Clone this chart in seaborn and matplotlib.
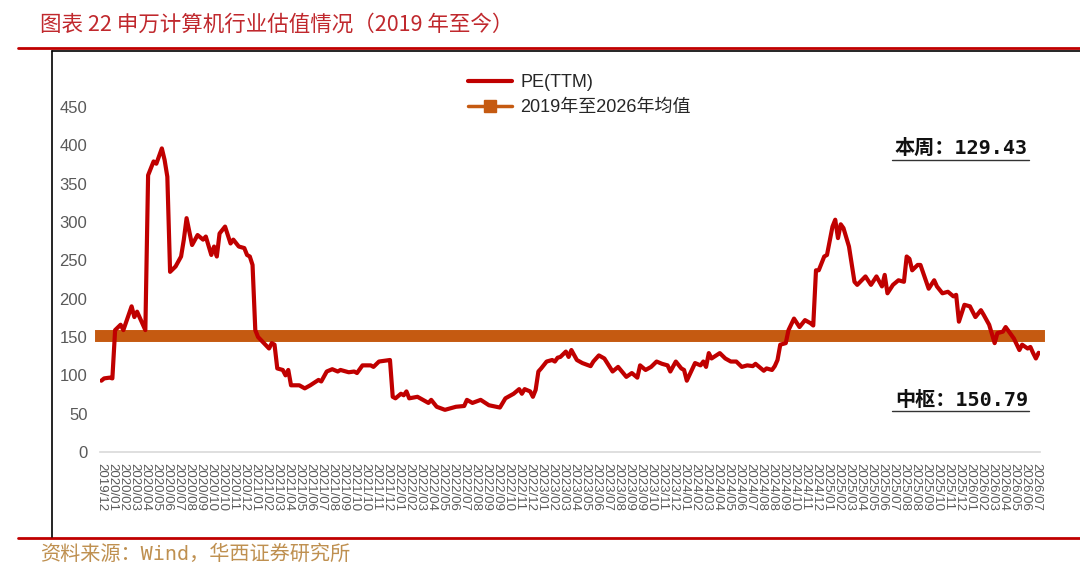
import numpy as np
import pandas as pd
import seaborn as sns
import matplotlib.pyplot as plt
from matplotlib.lines import Line2D

# weekly observations, week number counted from 2019-12-27
start_date = "2019-12-27"
week_no = [0, 1, 3, 4, 5, 7, 8, 11, 12, 13, 16, 17, 19, 20, 22, 23, 24, 25, 27, 29,
           30, 31, 33, 35, 37, 38, 40, 41, 42, 43, 45, 47, 48, 50, 52, 53, 54, 55, 56, 57,
           61, 62, 63, 64, 66, 67, 68, 69, 72, 74, 76, 79, 80, 82, 84, 86, 87, 90, 92, 93,
           95, 98, 99, 101, 105, 106, 107, 109, 110, 111, 112, 115, 117, 119, 120, 122, 125, 127, 129, 132,
           133, 135, 138, 141, 145, 147, 150, 152, 153, 154, 156, 157, 158, 159, 160, 162, 164, 165, 166, 167,
           169, 170, 171, 173, 175, 178, 179, 181, 183, 186, 188, 191, 193, 195, 196, 198, 200, 202, 204, 206,
           207, 209, 211, 212, 213, 216, 218, 219, 220, 221, 222, 225, 227, 229, 231, 233, 235, 237, 238, 240,
           241, 242, 244, 245, 246, 247, 249, 250, 252, 254, 256, 258, 259, 260, 261, 263, 264, 266, 267, 268,
           269, 270, 272, 274, 275, 278, 280, 282, 284, 285, 286, 288, 290, 292, 293, 294, 295, 297, 298, 301,
           303, 304, 306, 308, 310, 311, 312, 314, 316, 318, 320, 321, 323, 325, 326, 328, 329, 331, 332, 334,
           335, 337, 338, 339, 340, 341]
pe_ttm = [93, 96, 97, 96, 159, 166, 159, 190, 176, 183, 159, 361, 379, 376, 396, 381, 359, 235, 242, 255,
          277, 305, 270, 283, 277, 281, 257, 268, 255, 285, 294, 272, 277, 268, 266, 257, 255, 244, 159, 150,
          135, 142, 140, 109, 107, 100, 107, 87, 87, 83, 87, 94, 92, 105, 108, 105, 107, 104, 105, 103,
          113, 113, 111, 118, 120, 72, 70, 76, 74, 79, 70, 72, 68, 64, 68, 59, 55, 57, 59, 60,
          68, 64, 68, 61, 58, 70, 76, 82, 76, 82, 79, 72, 81, 105, 109, 118, 120, 118, 123, 124,
          131, 124, 133, 120, 116, 112, 118, 126, 122, 105, 111, 98, 103, 97, 113, 107, 111, 118, 115, 113,
          105, 118, 109, 107, 93, 116, 113, 118, 111, 129, 122, 129, 122, 118, 118, 111, 113, 112, 115, 109,
          106, 109, 107, 112, 120, 140, 142, 159, 174, 163, 172, 168, 165, 237, 237, 255, 257, 294, 303, 279,
          297, 292, 268, 222, 218, 229, 218, 229, 216, 231, 207, 218, 224, 222, 255, 252, 237, 244, 244, 213,
          224, 216, 207, 209, 203, 205, 170, 192, 190, 176, 185, 179, 166, 142, 155, 157, 163, 153, 148, 133,
          140, 135, 137, 129, 122, 129.43]
mean_pe = 150.79
latest_pe = 129.43

y_ticks = [0, 50, 100, 150, 200, 250, 300, 350, 400, 450]

dates = pd.Timestamp(start_date) + pd.to_timedelta(np.array(week_no) * 7, unit="D")
df = pd.DataFrame({"date": dates, "pe": pe_ttm})
df["mean"] = mean_pe
tick_dates = pd.date_range(start_date, periods=86, freq="28D")

sns.set_theme(style="white")
plt.rcParams["font.family"] = ["Liberation Sans", "Noto Sans CJK SC"]

fig = plt.figure(figsize=(10.8, 5.7), dpi=100)
ax = fig.add_axes([100 / 1080, 1 - 452 / 570, 940 / 1080, 345 / 570])

red = "#c00000"
orange = "#c55a11"

sns.lineplot(data=df, x="date", y="mean", color=orange, lw=8.6, ax=ax,
             solid_capstyle="projecting", clip_on=False)
sns.lineplot(data=df, x="date", y="pe", color=red, lw=3, ax=ax, zorder=3)

ax.set_xlim(pd.Timestamp(start_date) - pd.Timedelta(days=3.5),
            df["date"].iloc[-1] + pd.Timedelta(days=3.5))
ax.set_ylim(0, 450)
ax.set_yticks(y_ticks)
ax.set_xticks(tick_dates)
ax.set_xticklabels([d.strftime("%Y/%m") for d in tick_dates], rotation=270,
                   fontsize=9.5, color="#595959")
ax.tick_params(axis="y", labelsize=12, labelcolor="#595959", pad=9, length=0)
ax.tick_params(axis="x", pad=8, length=0)
ax.set_xlabel("")
ax.set_ylabel("")
for s in ["top", "right", "left"]:
    ax.spines[s].set_visible(False)
ax.spines["bottom"].set_color("#d9d9d9")
ax.spines["bottom"].set_linewidth(1.2)

handles = [Line2D([], [], color=red, lw=3),
           Line2D([], [], color=orange, lw=2.5, marker="s", markersize=8)]
fig.legend(handles, ["PE(TTM)", "2019年至2026年均值"], loc="upper left",
           bbox_to_anchor=(468 / 1080, 1 - 74 / 570), frameon=False, fontsize=13,
           borderpad=0, borderaxespad=0, handlelength=2.45, handletextpad=0.45,
           labelspacing=0.45, labelcolor="#262626")

# annotations with underline
note_font = ["DejaVu Sans Mono", "Noto Sans CJK SC"]
fig.text(1028 / 1080, 1 - 148 / 570, f"本周：{latest_pe:.2f}", ha="right", va="center",
         fontsize=14.5, fontweight="bold", family=note_font, color="#111111")
fig.text(1028 / 1080, 1 - 400 / 570, f"中枢：{mean_pe:.2f}", ha="right", va="center",
         fontsize=14.5, fontweight="bold", family=note_font, color="#111111")
for yy in [160, 411]:
    fig.add_artist(Line2D([892 / 1080, 1029 / 1080], [1 - yy / 570] * 2,
                          transform=fig.transFigure, color="#333333", lw=1))

# title, frame and source
fig.text(40 / 1080, 1 - 25 / 570, "图表 22 申万计算机行业估值情况（2019 年至今）",
         ha="left", va="center", fontsize=15.5, color="#c0282d",
         family=["Noto Sans CJK SC", "DejaVu Sans"])
fig.add_artist(Line2D([18 / 1080, 1], [1 - 47.5 / 570] * 2, transform=fig.transFigure,
                      color="#c00000", lw=2))
fig.add_artist(Line2D([18 / 1080, 1], [1 - 538 / 570] * 2, transform=fig.transFigure,
                      color="#c00000", lw=2))
fig.add_artist(Line2D([52 / 1080, 52 / 1080], [1 - 51 / 570, 1 - 537 / 570],
                      transform=fig.transFigure, color="black", lw=1.2))
fig.add_artist(Line2D([52 / 1080, 1], [1 - 51 / 570] * 2, transform=fig.transFigure,
                      color="black", lw=1.2))
fig.text(40 / 1080, 1 - 554 / 570, "资料来源：Wind，华西证券研究所", ha="left", va="center",
         fontsize=14.5, color="#bf9050", family=["DejaVu Sans Mono", "Noto Sans CJK SC"])

fig.savefig("out.png", dpi=100)
